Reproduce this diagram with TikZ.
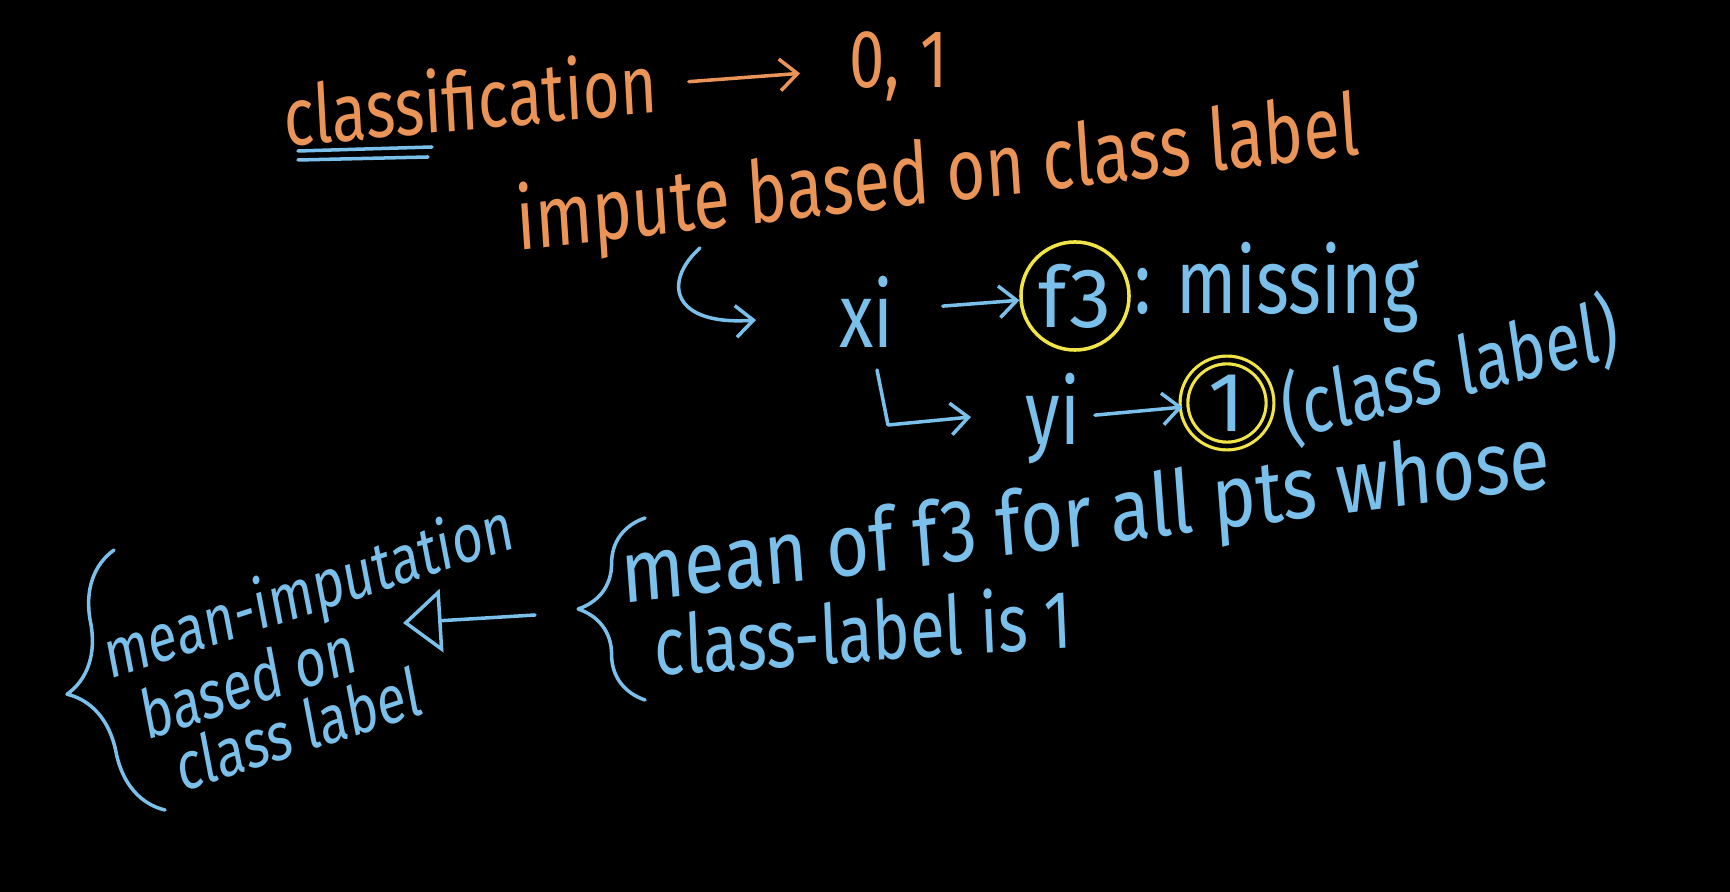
\documentclass[tikz,border=0pt]{standalone}
\usepackage{fontspec}
\setmainfont{Fira Sans}
\usetikzlibrary{arrows.meta,decorations.pathreplacing}
\definecolor{chalkorange}{RGB}{234,148,88}
\definecolor{chalkblue}{RGB}{122,192,234}
\definecolor{chalkyellow}{RGB}{240,228,70}

\begin{document}
\begin{tikzpicture}[x=0.01cm, y=-0.01cm,
    chalk/.style={inner sep=0pt, yscale=1.3},
    orangetext/.style={chalk, text=chalkorange},
    bluetext/.style={chalk, text=chalkblue},
    orangeline/.style={draw=chalkorange, line width=1pt, line cap=round},
    blueline/.style={draw=chalkblue, line width=1pt, line cap=round, line join=round},
    barb/.style={-{Straight Barb[length=5pt, width=9pt]}},
    ring/.style={circle, draw=chalkyellow, line width=1pt, inner sep=0pt, text=chalkblue},
    curly/.style={decorate, decoration={brace, amplitude=#1}}]

    % Board
    \useasboundingbox (0,0) rectangle (1730,892);
    \fill[black] (0,0) rectangle (1730,892);

    % Top line
    \node[orangetext, rotate=4, font=\fontsize{18}{22}\selectfont] (cls) at (470,98) {classification};
    \node[orangetext, font=\fontsize{18}{22}\selectfont] (bin) at (899,66) {0,\,\,1};
    \draw[orangeline, barb, shorten <=9pt, shorten >=14pt] (cls) -- (bin);
    \draw[blueline] (298,151) -- (432,147);
    \draw[blueline] (298,160) -- (428,157);

    \node[orangetext, rotate=5, font=\fontsize{19}{23}\selectfont] (imp) at (938,178) {impute based on class label};

    % Sample row
    \coordinate (hkstart) at (700,248);
    \coordinate (hkend) at (756,320);
    \draw[blueline, barb] (hkstart) .. controls (662,282) and (672,326) .. (hkend);

    \node[bluetext, font=\fontsize{20}{24}\selectfont] (xi) at (866,312) {xi};
    \node[ring, minimum size=1.08cm, font=\fontsize{24}{28}\selectfont] (f3) at (1075,296) {f3};
    \draw[blueline, barb, shorten <=14pt] (xi) -- (f3);
    \node[bluetext, anchor=west, font=\fontsize{20}{24}\selectfont] (miss) at (1134,288) {: missing};

    \coordinate (lstart) at (877,370);
    \coordinate (lcorner) at (888,425);
    \coordinate (lend) at (971,417);
    \draw[blueline, barb] (lstart) -- (lcorner) -- (lend);

    \node[bluetext, font=\fontsize{20}{24}\selectfont] (yi) at (1053,419) {yi};
    \node[ring, double=black, double distance=1.3pt, line width=0.9pt, minimum size=0.86cm,
        font=\fontsize{24}{28}\selectfont] (one) at (1227,403) {1};
    \draw[blueline, barb, shorten <=4pt] (yi) -- (one);
    \node[bluetext, rotate=11, font=\fontsize{18}{22}\selectfont] (clslbl) at (1450,370) {(class label)};

    % Mean for the class
    \node[bluetext, rotate=5.5, yscale=0.92, font=\fontsize{21}{25}\selectfont] (mean1) at (1086,522) {mean of f3 for all pts whose};
    \node[bluetext, rotate=3, font=\fontsize{18}{22}\selectfont] (mean2) at (863,630) {class-label is 1};
    \draw[blueline, curly=19pt] (645,700) -- (645,518);

    \coordinate (artail) at (535,615);
    \coordinate (artip) at (403,623);
    \draw[blueline, -{Triangle[open, length=11pt, width=18pt]}] (artail) -- (artip);

    % Result
    \node[bluetext, align=left, rotate=14, font=\fontsize{15}{13.5}\selectfont] (mimp) at (320,652)
        {mean-imputation\\\hspace{7pt}based on\\\hspace{14pt}class label};
    \draw[blueline, curly=21pt] (165,810) -- (114,550);
\end{tikzpicture}
\end{document}
